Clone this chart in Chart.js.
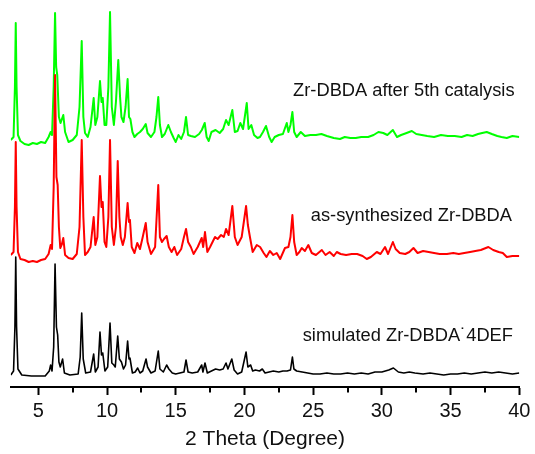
<!DOCTYPE html>
<html>
<head>
<meta charset="utf-8">
<script src="https://cdn.jsdelivr.net/npm/chart.js@4/dist/chart.umd.min.js"></script>
<style>
  html, body { margin: 0; padding: 0; background: #fff; }
  #wrap { width: 535px; height: 454px; }
</style>
</head>
<body>
<div id="wrap"><canvas id="c" width="535" height="454"></canvas></div>
<script>
// ---- Data (2θ in degrees, intensity in stacked arbitrary units) ----
const simX = [3.0,3.2,3.3,3.36,3.42,3.52,3.8,4.5,5.5,5.8,5.9,6.0,6.12,6.22,6.32,6.41,6.5,6.6,6.77,6.9,7.3,7.9,8.05,8.16,8.27,8.45,8.8,9.03,9.15,9.35,9.49,9.6,9.69,9.85,10.05,10.22,10.35,10.5,10.6,10.78,10.9,11.05,11.2,11.35,11.5,11.6,11.67,11.85,12.05,12.23,12.4,12.6,12.84,12.95,13.2,13.5,13.73,13.85,14.1,14.34,14.5,14.75,15.0,15.3,15.6,15.75,15.9,16.2,16.6,16.89,16.98,17.13,17.3,17.6,17.9,18.2,18.45,18.66,18.8,19.08,19.25,19.5,19.8,20.12,20.25,20.45,20.6,20.8,21.1,21.3,21.5,21.8,22.1,22.5,22.8,23.1,23.35,23.49,23.6,23.8,24.2,24.6,25.0,25.5,26.0,26.5,27.0,27.5,28.0,28.5,29.0,29.5,30.0,30.5,30.84,31.2,31.6,32.0,32.4,33.0,33.5,34.0,34.5,35.0,35.5,36.0,36.5,37.0,37.5,38.0,38.5,39.0,39.5,40.0];
const simY = [12,16,60,130,60,18,12,11,11,16,22,16,40,123,60,52,25,20,28,14,12,13,30,74,28,14,15,33,15,20,55,32,34,16,20,64,24,22,20,51,28,25,18,22,46,28,29,14,15,19,14,16,28,20,14,16,36,18,15,22,18,14,13,14,15,27,15,14,15,22,15,24,14,16,18,17,18,24,18,28,17,13,15,35,20,22,16,17,16,18,14,15,16,15,16,16,17,30,18,16,15,14,13,13,14,13,13,14,13,14,13,15,15,17,19,15,14,15,14,13,14,13,12,13,13,14,13,14,15,14,15,14,13,14];

const asX = [3.0,3.2,3.3,3.36,3.42,3.52,3.7,4.0,4.3,4.6,4.9,5.2,5.5,5.75,5.9,6.0,6.12,6.22,6.32,6.41,6.5,6.6,6.72,6.82,6.95,7.2,7.5,7.8,8.0,8.16,8.28,8.4,8.6,8.8,9.03,9.15,9.3,9.49,9.6,9.69,9.82,9.95,10.1,10.22,10.35,10.5,10.65,10.78,10.9,11.0,11.15,11.3,11.5,11.6,11.67,11.8,12.0,12.2,12.4,12.6,12.82,12.95,13.2,13.5,13.73,13.85,14.0,14.15,14.34,14.5,14.7,14.9,15.1,15.4,15.6,15.75,15.9,16.1,16.3,16.6,16.89,17.0,17.13,17.3,17.5,17.86,18.05,18.3,18.5,18.66,18.85,19.12,19.3,19.5,19.8,20.12,20.25,20.4,20.6,20.9,21.14,21.4,21.6,21.85,22.1,22.35,22.6,22.95,23.2,23.35,23.49,23.62,23.8,24.0,24.17,24.4,24.65,24.9,25.2,25.63,25.9,26.2,26.5,26.72,27.0,27.4,27.8,28.2,28.6,28.9,29.2,29.63,29.9,30.23,30.45,30.8,31.0,31.3,31.7,32.0,32.3,32.6,33.0,33.4,33.8,34.2,34.73,35.2,35.6,36.0,36.42,36.8,37.2,37.75,38.1,38.5,38.8,39.09,39.5,40.0];
const asY = [132,135,180,245,180,135,128,127,125,126,125,127,128,133,142,138,200,312,210,202,160,139,143,149,132,129,128,133,160,247,170,132,135,140,170,142,150,211,180,185,145,140,170,247,160,142,160,226,170,150,142,150,184,165,167,140,134,144,138,150,164,145,133,140,202,150,145,148,151,140,135,140,132,138,150,158,145,140,133,140,149,140,155,135,140,150,148,152,150,158,152,181,150,142,150,181,162,150,135,142,140,134,130,136,132,134,128,139,140,150,172,145,132,135,139,136,142,134,132,137,132,135,131,135,133,132,133,133,131,128,130,135,133,140,133,145,138,134,133,135,139,134,136,135,134,133,133,134,133,134,135,136,137,140,137,135,134,130,131,131];

const catX = [3.0,3.2,3.3,3.36,3.42,3.52,3.7,4.0,4.3,4.6,4.9,5.2,5.5,5.75,5.9,6.0,6.12,6.22,6.3,6.38,6.5,6.62,6.72,6.82,6.95,7.2,7.5,7.8,8.0,8.16,8.28,8.4,8.6,8.8,9.03,9.15,9.3,9.49,9.6,9.69,9.82,9.95,10.1,10.22,10.35,10.5,10.65,10.82,10.95,11.05,11.2,11.35,11.5,11.6,11.7,11.85,12.0,12.2,12.4,12.6,12.82,12.95,13.2,13.45,13.6,13.73,13.85,14.0,14.2,14.46,14.65,14.85,15.0,15.2,15.4,15.6,15.75,15.9,16.1,16.4,16.7,16.9,17.11,17.25,17.4,17.6,17.9,18.2,18.45,18.66,18.85,19.12,19.3,19.5,19.7,19.9,20.17,20.3,20.5,20.7,20.95,21.13,21.35,21.57,21.8,21.98,22.2,22.5,22.8,23.08,23.2,23.35,23.49,23.62,23.8,24.1,24.4,24.8,25.2,25.6,26.0,26.5,26.95,27.3,27.7,28.1,28.5,29.0,29.4,29.75,30.1,30.4,30.8,31.1,31.4,31.8,32.18,32.5,32.9,33.3,33.8,34.3,34.8,35.3,35.8,36.2,36.6,37.0,37.3,37.63,38.0,38.4,38.7,39.09,39.5,40.0];
const catY = [247,250,300,364,300,252,246,243,242,244,243,245,244,250,255,252,300,374,320,312,270,264,268,272,255,245,247,252,280,346,270,254,250,260,289,262,270,306,285,289,262,262,300,375,280,262,285,327,290,270,265,280,308,270,268,255,250,253,255,258,263,254,250,255,270,290,262,250,253,262,255,249,245,252,248,255,270,252,251,250,253,257,264,250,246,255,257,254,258,267,262,277,255,256,264,258,284,258,262,252,249,250,255,261,250,245,250,252,253,264,255,262,275,255,250,255,251,252,252,253,251,249,248,250,249,249,250,250,252,255,254,252,257,250,252,254,256,253,252,251,250,252,251,251,250,252,251,253,254,255,253,251,250,249,251,250];

const majorTicks = [5, 10, 15, 20, 25, 30, 35, 40];
const minorTicks = [7.5, 12.5, 17.5, 22.5, 27.5, 32.5, 37.5];
const seriesNames = ['Zr-DBDA after 5th catalysis', 'as-synthesized Zr-DBDA', 'simulated Zr-DBDA\u02D94DEF'];
const seriesColors = ['#00ff00', '#ff0000', '#000000'];
const labelX = [23.54, 24.83, 24.24];
const labelY = [291, 166.3, 46];

const FONT = 'Arial, "Liberation Sans", sans-serif';
const toPts = (xs, ys) => xs.map((x, i) => ({ x: x, y: ys[i] }));

const overlay = {
  id: 'overlay',
  afterDraw(chart) {
    const { ctx } = chart;
    const xs = chart.scales.x, ys = chart.scales.y;
    ctx.save();
    ctx.strokeStyle = '#000';
    ctx.lineWidth = 2;
    minorTicks.forEach(v => {
      const px = Math.round(xs.getPixelForValue(v));
      ctx.beginPath();
      ctx.moveTo(px, xs.top + 1);
      ctx.lineTo(px, xs.top + 5.5);
      ctx.stroke();
    });
    ctx.font = '18.3px ' + FONT;
    ctx.fillStyle = '#111';
    ctx.textAlign = 'left';
    ctx.textBaseline = 'alphabetic';
    seriesNames.forEach((t, i) => {
      ctx.fillText(t, xs.getPixelForValue(labelX[i]), ys.getPixelForValue(labelY[i]));
    });
    ctx.restore();
  }
};

new Chart(document.getElementById('c'), {
  type: 'line',
  data: {
    datasets: [
      { label: seriesNames[2], data: toPts(simX, simY), borderColor: seriesColors[2], borderWidth: 1.6 },
      { label: seriesNames[1], data: toPts(asX, asY), borderColor: seriesColors[1], borderWidth: 2 },
      { label: seriesNames[0], data: toPts(catX, catY), borderColor: seriesColors[0], borderWidth: 2 }
    ]
  },
  options: {
    responsive: false,
    animation: false,
    parsing: true,
    elements: { point: { radius: 0 }, line: { tension: 0, borderJoinStyle: 'round', fill: false } },
    layout: { padding: { left: 10.8, right: 15.7, top: 0, bottom: 0 } },
    plugins: { legend: { display: false }, tooltip: { enabled: false } },
    scales: {
      x: {
        type: 'linear',
        min: 3,
        max: 40,
        afterBuildTicks: s => { s.ticks = majorTicks.map(v => ({ value: v })); },
        afterFit: s => { s.height = 67; },
        border: { display: true, color: '#000', width: 2 },
        grid: { drawOnChartArea: false, drawTicks: true, tickLength: 8, tickWidth: 2, tickColor: '#000' },
        ticks: { color: '#111', font: { family: FONT, size: 20 }, padding: 4, maxRotation: 0, autoSkip: false },
        title: { display: true, text: '2 Theta (Degree)', color: '#111', font: { family: FONT, size: 21 }, padding: { top: 0, bottom: 2 } }
      },
      y: {
        type: 'linear',
        display: false,
        min: 0,
        max: 387
      }
    }
  },
  plugins: [overlay]
});
</script>
</body>
</html>
